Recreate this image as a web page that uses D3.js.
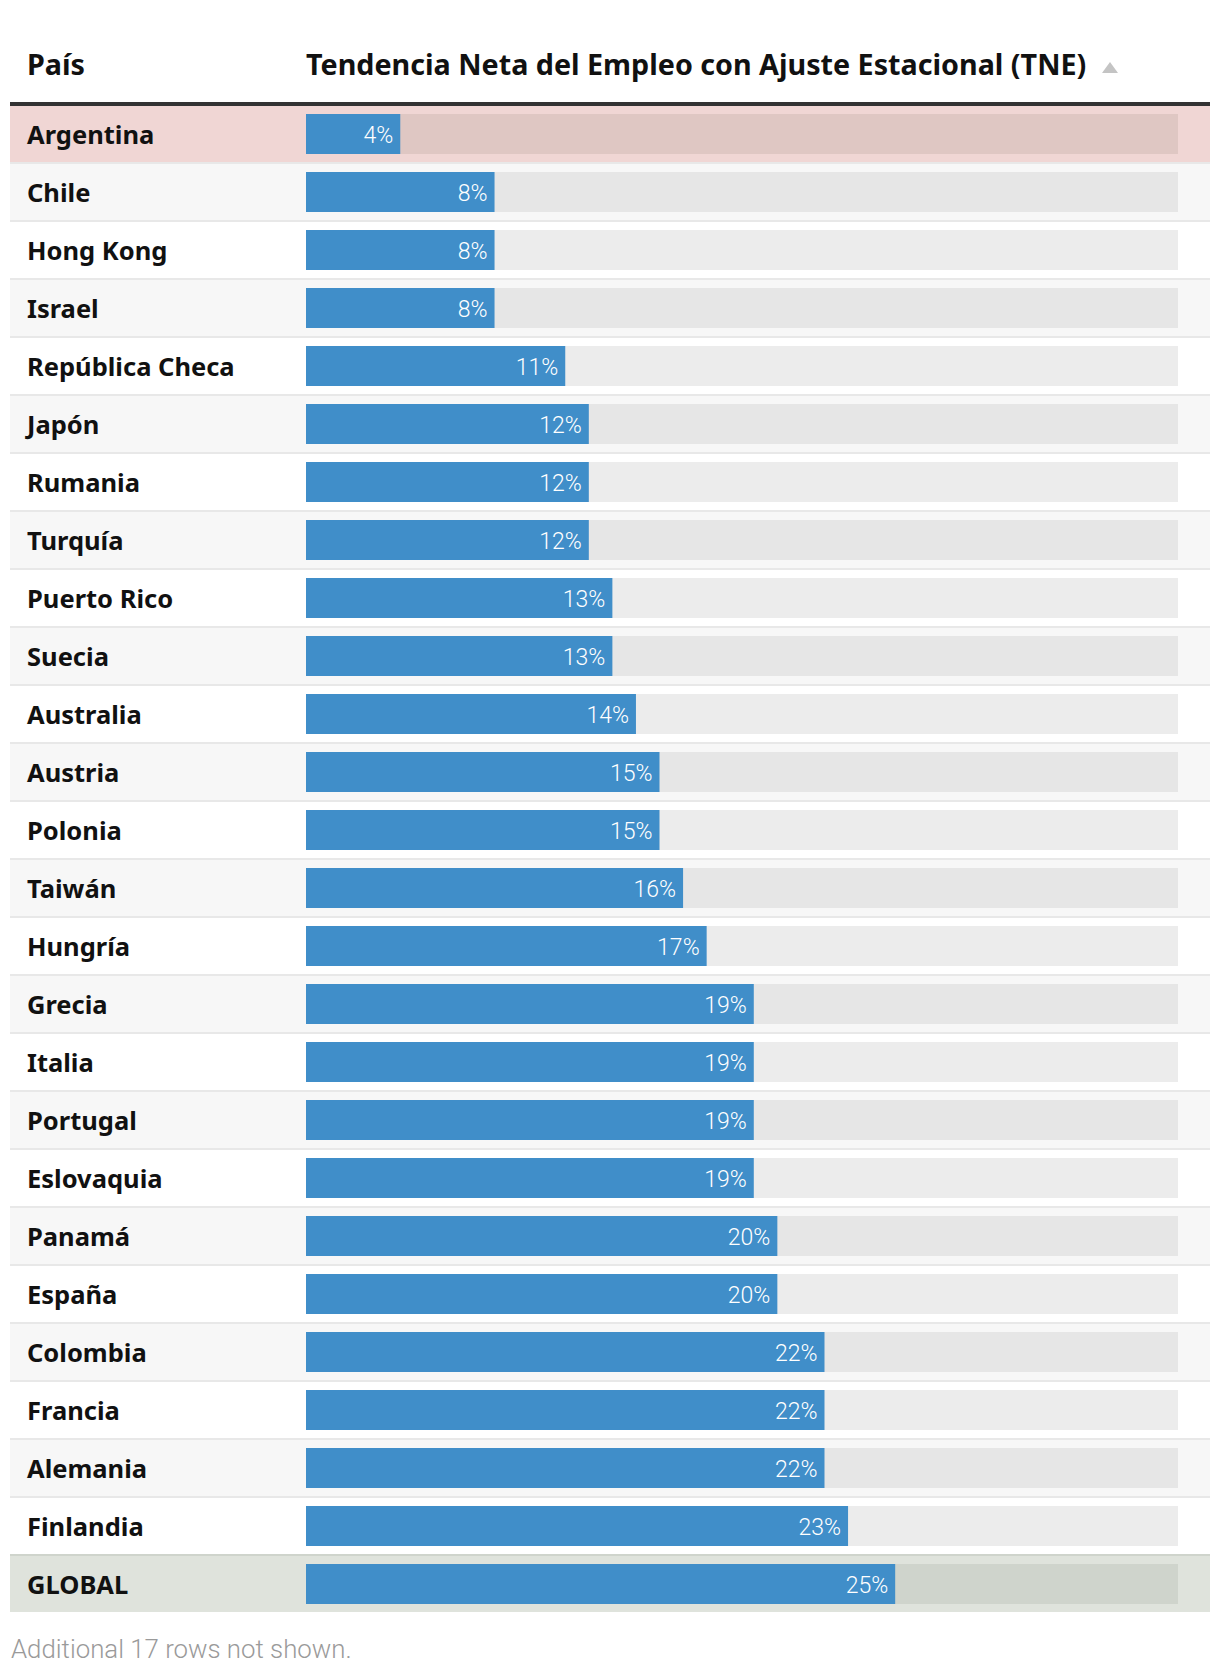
<!DOCTYPE html>
<html>
<head>
<meta charset="utf-8">
<script src="https://cdn.jsdelivr.net/npm/d3@7"></script>
<style>
  html, body { margin: 0; padding: 0; background: #fff; }
  svg { display: block; }
</style>
</head>
<body>
<div id="chart"></div>
<script>
const countries = ["Argentina","Chile","Hong Kong","Israel","República Checa","Japón","Rumania","Turquía","Puerto Rico","Suecia","Australia","Austria","Polonia","Taiwán","Hungría","Grecia","Italia","Portugal","Eslovaquia","Panamá","España","Colombia","Francia","Alemania","Finlandia","GLOBAL"];
const values = [4,8,8,8,11,12,12,12,13,13,14,15,15,16,17,19,19,19,19,20,20,22,22,22,23,25];
const highlighted = ["Argentina"];
const totalRow = "GLOBAL";
const columnHeaders = ["País", "Tendencia Neta del Empleo con Ajuste Estacional (TNE)"];
const footnote = "Additional 17 rows not shown.";
const domainMax = 37; // largest value in the full (partly hidden) table

const W = 1220, H = 1676;
const tableLeft = 10, tableRight = 1210;
const labelX = 27;
const barLeft = 306, barRight = 1178;
const headTop = 102, rowH = 58;

const svg = d3.select("#chart").append("svg").attr("width", W).attr("height", H);

const y = d3.scaleBand().domain(countries).range([headTop + 4, headTop + 4 + rowH * countries.length]).paddingInner(0);
const x = d3.scaleLinear().domain([0, domainMax]).range([barLeft, barRight]);

const boldFont = "'Noto Sans', 'Open Sans', sans-serif";
const lightFont = "Roboto, 'Noto Sans', sans-serif";

// header
svg.append("text").attr("x", labelX).attr("y", 75).text(columnHeaders[0])
  .attr("font-family", boldFont).attr("font-weight", 700).attr("font-size", 28.7).attr("fill", "#111");
svg.append("text").attr("x", barLeft).attr("y", 75).text(columnHeaders[1])
  .attr("font-family", boldFont).attr("font-weight", 700).attr("font-size", 28.7).attr("fill", "#111");
svg.append("path").attr("d", "M1102,73 L1118,73 L1110,62 Z").attr("fill", "#c4c4c4");
svg.append("rect").attr("x", tableLeft).attr("y", headTop).attr("width", tableRight - tableLeft).attr("height", 4).attr("fill", "#333");

const rows = svg.selectAll("g.row").data(countries.map((c, i) => ({c, v: values[i], i})))
  .join("g").attr("class", "row").attr("transform", d => `translate(0,${y(d.c)})`);

function bg(d) {
  if (highlighted.includes(d.c)) return "#f0d6d4";
  if (d.c === totalRow) return "#dfe3dc";
  return d.i % 2 === 1 ? "#f7f7f7" : "#ffffff";
}
function track(d) {
  if (highlighted.includes(d.c)) return "#dfc7c3";
  if (d.c === totalRow) return "#cfd4cc";
  return d.i % 2 === 1 ? "#e6e6e6" : "#ececec";
}

rows.append("rect").attr("x", tableLeft).attr("y", 0).attr("width", tableRight - tableLeft).attr("height", y.bandwidth() - 2).attr("fill", bg);
rows.filter(d => d.c !== totalRow && d.i < countries.length - 2).append("rect")
  .attr("x", tableLeft).attr("y", y.bandwidth() - 2).attr("width", tableRight - tableLeft).attr("height", 2).attr("fill", "#e8e8e8");
rows.filter(d => d.i === countries.length - 2).append("rect")
  .attr("x", tableLeft).attr("y", y.bandwidth() - 2).attr("width", tableRight - tableLeft).attr("height", 2).attr("fill", "#cfd4cc");

rows.append("rect").attr("x", x(0)).attr("y", 8).attr("width", x(domainMax) - x(0)).attr("height", 40).attr("fill", track);
rows.append("rect").attr("x", x(0)).attr("y", 8).attr("width", d => x(d.v) - x(0)).attr("height", 40).attr("fill", "#408ec9");

rows.append("text").attr("x", labelX).attr("y", 38).text(d => d.c)
  .attr("font-family", boldFont).attr("font-weight", 700).attr("font-size", 25.5).attr("fill", "#111");
rows.append("text").attr("x", d => x(d.v) - 7).attr("y", 37).attr("text-anchor", "end").text(d => d.v + "%")
  .attr("font-family", lightFont).attr("font-weight", 300).attr("font-size", 23).attr("fill", "#fff");

svg.append("text").attr("x", 11).attr("y", 1658).text(footnote)
  .attr("font-family", lightFont).attr("font-weight", 300).attr("font-size", 25.8).attr("fill", "#9a9a9a");
</script>
</body>
</html>
